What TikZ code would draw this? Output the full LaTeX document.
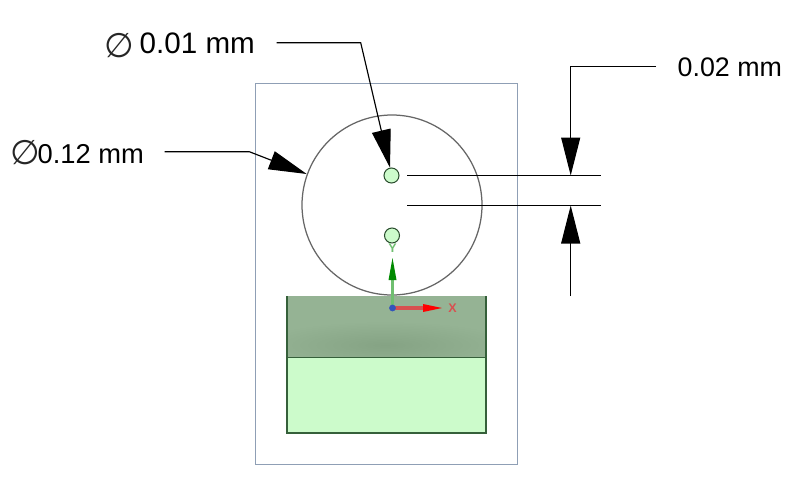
\documentclass[tikz,border=0pt]{standalone}
\usepackage{fontspec}
\setmainfont{Liberation Sans}
\newfontfamily\symfont{DejaVu Sans}
\usetikzlibrary{arrows.meta}
\definecolor{frameblue}{HTML}{8F9FB5}
\definecolor{circgray}{HTML}{666666}
\definecolor{edgegreen}{HTML}{35603A}
\definecolor{lightgreen}{HTML}{CCFBCB}
\definecolor{darkface}{HTML}{95B394}
\definecolor{darkshade}{HTML}{85A384}
\definecolor{yshaft}{HTML}{6FBF70}
\definecolor{yhead}{HTML}{008A00}
\definecolor{xshaft}{HTML}{D85050}
\definecolor{axisblue}{HTML}{3355BB}
\tikzset{
  x=1pt,y=-1pt,
  dimline/.style={draw=black,line width=1.15pt},
  bigtip/.style={-{Triangle[length=#1,width=19pt,fill=black]}},
  dimlabel/.style={anchor=base west,inner sep=0pt,text=black},
  philab/.style={inner sep=0pt,text=black!85,font=\symfont\fontsize{34}{34}\selectfont},
  hole/.style={circle,draw=edgegreen!80!black,fill=lightgreen,line width=1pt,minimum size=15pt,inner sep=0pt},
  axislab/.style={inner sep=0pt,font=\bfseries\fontsize{12.5}{12.5}\selectfont},
}
\begin{document}
\begin{tikzpicture}
\useasboundingbox (0,0) rectangle (797,482);
\fill[white] (0,0) rectangle (797,482);
% frame
\draw[frameblue,line width=0.95pt] (255,83) rectangle (517,464);
% block
\fill[lightgreen] (287,357) rectangle (486,433);
\begin{scope}
  \clip (287,296) rectangle (486,357);
  \fill[darkface] (287,296) rectangle (486,357);
  \shade[inner color=darkshade,outer color=darkface] (385,345) ellipse [x radius=130,y radius=24];
\end{scope}
\draw[edgegreen,line width=1.2pt] (287,296) -- (287,433) -- (486,433) -- (486,296);
\draw[edgegreen,line width=1pt] (287,357) -- (486,357);
% big circle
\node[circle,draw=circgray,line width=1.25pt,minimum size=180pt,inner sep=0pt] (bigc) at (392,205) {};
% holes
\node[hole] (holeA) at (391.5,175.5) {};
\node[hole] (holeB) at (392,235.5) {};
% axes
\coordinate (orig) at (392.5,308);
\coordinate (ytip) at (392.5,258);
\coordinate (xtip) at (442,308);
\draw[yshaft,line width=3.2pt] (orig) -- (392.5,280);
\draw[xshaft,line width=3.2pt] (orig) -- (425,308);
\fill[yhead] (ytip) -- (396.5,280) -- (388.5,280) -- cycle;
\fill[red] (xtip) -- (423,304) -- (423,312) -- cycle;
\fill[axisblue] (orig) circle (3.4);
\node[axislab,text=yshaft] (ylab) at (392.5,248) {Y};
\node[axislab,text=xshaft] (xlab) at (452.5,308.5) {X};
% labels
\node[philab] (phi1) at (119,45.5) {∅};
\node[philab] (phi2) at (25,153) {∅};
\node[dimlabel,font=\fontsize{29.6}{30}\selectfont] (lab1) at (139.5,53.3) {0.01 mm};
\node[dimlabel,font=\fontsize{27.3}{30}\selectfont] (lab2) at (37.5,163.3) {0.12 mm};
\node[dimlabel,font=\fontsize{26.8}{30}\selectfont] (lab3) at (677.5,76) {0.02 mm};
% leaders
\coordinate (a1s) at (276.5,42.7);
\coordinate (a1k) at (360.7,42.7);
\coordinate (a1t) at (390,167.7);
\draw[dimline,bigtip=38pt] (a1s) -- (a1k) -- (a1t);
\coordinate (a2s) at (164.5,151.7);
\coordinate (a2k) at (249.3,151.7);
\coordinate (a2t) at (306.7,174);
\draw[dimline,bigtip=38pt] (a2s) -- (a2k) -- (a2t);
% dimension
\coordinate (e1a) at (407,175.5);
\coordinate (e1b) at (601,175.5);
\coordinate (e2a) at (407,205.5);
\coordinate (e2b) at (601,205.5);
\draw[dimline] (e1a) -- (e1b);
\draw[dimline] (e2a) -- (e2b);
\coordinate (d1s) at (656,66.7);
\coordinate (d1k) at (570.7,66.7);
\coordinate (d1t) at (570.7,175.5);
\coordinate (d2s) at (570.7,296);
\coordinate (d2t) at (570.7,205.5);
\draw[dimline,bigtip=38pt] (d1s) -- (d1k) -- (d1t);
\draw[dimline,bigtip=38pt] (d2s) -- (d2t);
\end{tikzpicture}
\end{document}
